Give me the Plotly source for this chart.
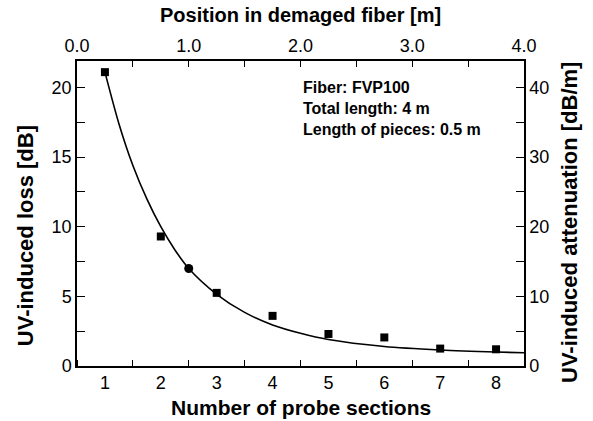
import plotly.graph_objects as go

# Measured UV-induced loss per probe section
sections = [1, 2, 3, 4, 5, 6, 7, 8]
loss_db = [21.1, 9.3, 5.25, 3.6, 2.3, 2.05, 1.25, 1.2]

# Extra point marked with a circle
circle_x = [2.5]
circle_y = [7.0]

# Decay curve through the measurements
curve_x = [1.0, 1.25, 1.5, 1.75, 2.0, 2.25, 2.5, 3.0, 3.5, 4.0, 4.5, 5.0, 6.0, 7.0, 8.0, 8.5]
curve_y = [21.1, 17.4, 14.4, 12.0, 10.0, 8.35, 7.0, 5.15, 3.85, 2.95, 2.35, 1.9, 1.4, 1.15, 1.0, 0.95]

# Axis extents
x_range = [0.5, 8.5]
pos_range = [0.0, 4.0]
loss_range = [0, 21.9]
atten_range = [0, 43.8]

bottom_ticks = [1, 2, 3, 4, 5, 6, 7, 8]
top_ticks = [0.0, 1.0, 2.0, 3.0, 4.0]
top_labels = ["0.0", "1.0", "2.0", "3.0", "4.0"]
left_ticks = [0, 5, 10, 15, 20]
right_ticks = [0, 10, 20, 30, 40]

FONT = "Liberation Sans, Arial, sans-serif"
tick_font = dict(family=FONT, size=18, color="black")


def title_font(size):
    return dict(family=FONT, size=size, color="black", weight="bold")


fig = go.Figure()

fig.add_trace(go.Scatter(
    x=curve_x, y=curve_y, mode="lines",
    line=dict(color="black", width=1.6, shape="spline", smoothing=0.8),
    showlegend=False, hoverinfo="skip",
))
fig.add_trace(go.Scatter(
    x=sections, y=loss_db, mode="markers",
    marker=dict(symbol="square", size=8, color="black"),
    showlegend=False,
))
fig.add_trace(go.Scatter(
    x=circle_x, y=circle_y, mode="markers",
    marker=dict(symbol="circle", size=9, color="black"),
    showlegend=False,
))
# Transparent traces so the secondary axes are laid out
fig.add_trace(go.Scatter(x=pos_range, y=[0, 0], xaxis="x2", yaxis="y",
                         mode="markers", marker=dict(opacity=0),
                         showlegend=False, hoverinfo="skip"))
fig.add_trace(go.Scatter(x=[1, 1], y=atten_range, xaxis="x", yaxis="y2",
                         mode="markers", marker=dict(opacity=0),
                         showlegend=False, hoverinfo="skip"))

axis_common = dict(showgrid=False, zeroline=False, showline=True,
                   linecolor="black", linewidth=1.5, tickfont=tick_font,
                   tickcolor="black", tickwidth=1.2, ticklabeloverflow="allow")

fig.update_layout(
    width=593, height=421,
    margin=dict(l=77, r=69, t=61, b=55),
    paper_bgcolor="white", plot_bgcolor="white",
    showlegend=False,
    xaxis=dict(
        **axis_common, range=x_range, tickvals=bottom_ticks, ticks="",
        minor=dict(tick0=0.5, dtick=1, ticks="inside", ticklen=6,
                   tickcolor="black", tickwidth=1.2),
        ticklabelstandoff=0,
    ),
    xaxis2=dict(
        **axis_common, range=pos_range, overlaying="x", side="top", anchor="y",
        tickvals=top_ticks, ticktext=top_labels, ticks="inside", ticklen=6,
        minor=dict(dtick=0.5, ticks="inside", ticklen=6,
                   tickcolor="black", tickwidth=1.2),
    ),
    yaxis=dict(
        **axis_common, range=loss_range, tickvals=left_ticks, ticks="inside",
        ticklen=8,
        minor=dict(dtick=2.5, ticks="inside", ticklen=8,
                   tickcolor="black", tickwidth=1.2),
    ),
    yaxis2=dict(
        **axis_common, range=atten_range, overlaying="y", side="right",
        anchor="x", tickvals=right_ticks, ticks="inside", ticklen=8,
        minor=dict(dtick=5, ticks="inside", ticklen=8,
                   tickcolor="black", tickwidth=1.2),
    ),
    annotations=[
        dict(x=4.5, y=20.75, xref="x", yref="y", xanchor="left", yanchor="top",
             text="Fiber: FVP100<br>Total length: 4 m<br>Length of pieces: 0.5 m",
             align="left", showarrow=False,
             font=dict(family=FONT, size=16, color="black", weight="bold")),
        # Axis titles
        dict(x=0.501, y=1.151, xref="paper", yref="paper", xanchor="center",
             yanchor="middle", showarrow=False, text="Position in demaged fiber [m]",
             font=title_font(20)),
        dict(x=0.50, y=-0.135, xref="paper", yref="paper", xanchor="center",
             yanchor="middle", showarrow=False, text="Number of probe sections",
             font=title_font(21)),
        dict(x=-0.116, y=0.426, xref="paper", yref="paper", xanchor="center",
             yanchor="middle", showarrow=False, text="UV-induced loss [dB]",
             textangle=-90, font=title_font(22)),
        dict(x=1.103, y=0.469, xref="paper", yref="paper", xanchor="center",
             yanchor="middle", showarrow=False, text="UV-induced attenuation [dB/m]",
             textangle=-90, font=title_font(22)),
    ],
)

fig.write_html("out.html")
